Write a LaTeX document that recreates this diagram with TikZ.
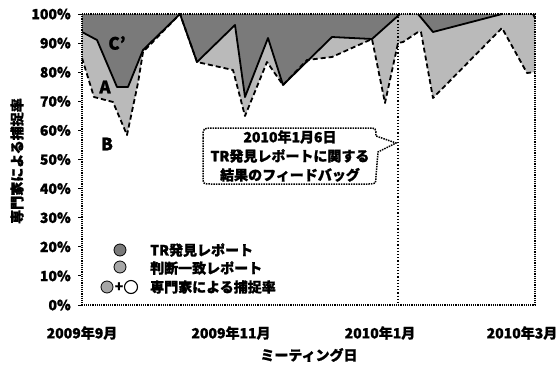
\documentclass[tikz,border=0pt]{standalone}
\usepackage{fontspec}
\setmainfont{Noto Sans CJK JP}[BoldFeatures={FakeBold=1.2}]
\begin{document}
\begin{tikzpicture}[x=1pt,y=-1pt,
  every node/.style={font=\fontsize{14}{16}\selectfont\bfseries, inner sep=0pt},
  darkfill/.style={fill=black!52},
  lightfill/.style={fill=black!27},
  solidline/.style={draw=black, line width=1.8pt, line join=round},
  dashline/.style={draw=black, line width=1.8pt, dash pattern=on 5pt off 3pt, line join=round},
  frameline/.style={draw=black, line width=2pt, dash pattern=on 1.2pt off 1pt},
  feedline/.style={draw=black, line width=1.6pt, dash pattern=on 1.2pt off 2pt},
  calloutline/.style={draw=black, line width=1.5pt, dash pattern=on 1.5pt off 1pt, fill=white},
  ticklab/.style={anchor=east},
  xlab/.style={anchor=center},
  region/.style={font=\fontsize{17}{18}\selectfont\bfseries},
  legdot/.style={draw=black, line width=0.8pt}
]
\useasboundingbox (0,0) rectangle (558,365);

% regions
\fill[lightfill] (82,14) -- (82,58) -- (94,97) -- (113,102) -- (127,135) -- (138,83) -- (143,52) -- (180,14)
  -- (197,62) -- (233,70) -- (245,116) -- (267,62) -- (283,85) -- (307,60) -- (332,57) -- (372,39)
  -- (385,103) -- (398,43) -- (403,42) -- (418,32) -- (421,32) -- (433,98) -- (502,28) -- (527,73) -- (535,72)
  -- (535,14) -- cycle;
\fill[darkfill] (82,14) -- (82,32) -- (97,40) -- (117,87) -- (128,87) -- (143,50) -- (180,14)
  -- (197,62) -- (235,25) -- (245,97) -- (268,38) -- (283,85) -- (332,37) -- (372,39) -- (400,14)
  -- (418,14) -- (433,32) -- (502,14) -- (533,14) -- (535,18) -- (535,14) -- cycle;

% curves
\draw[solidline] (82,32) -- (97,40) -- (117,87) -- (128,87) -- (143,50) -- (180,14)
  -- (197,62) -- (235,25) -- (245,97) -- (268,38) -- (283,85) -- (332,37) -- (372,39) -- (400,14)
  (418,14) -- (433,32) -- (502,14) (533,14) -- (535,18);
\draw[dashline] (82,58) -- (94,97) -- (113,102) -- (127,135) -- (138,83) -- (143,52) -- (180,14)
  -- (197,62) -- (233,70) -- (245,116) -- (267,62) -- (283,85) -- (307,60) -- (332,57) -- (372,39)
  -- (385,103) -- (398,43) -- (403,42) -- (418,32) -- (421,32) -- (433,98) -- (502,28) -- (527,73) -- (535,72);

% frame
\draw[frameline] (82,14) rectangle (535,305);
\foreach \k in {0,...,10} {
  \draw[line width=1pt] (78,{305-29.1*\k}) -- (81,{305-29.1*\k});
}
% feedback line
\coordinate (vtop) at (398,14);
\coordinate (vbot) at (398,305);
\draw[feedline] (vtop) -- (vbot);

% y tick labels
\node[ticklab] (t0) at (71,305) {0\%};
\node[ticklab] (t1) at (71,275.9) {10\%};
\node[ticklab] (t2) at (71,246.8) {20\%};
\node[ticklab] (t3) at (71,217.7) {30\%};
\node[ticklab] (t4) at (71,188.6) {40\%};
\node[ticklab] (t5) at (71,159.5) {50\%};
\node[ticklab] (t6) at (71,130.4) {60\%};
\node[ticklab] (t7) at (71,101.3) {70\%};
\node[ticklab] (t8) at (71,72.2) {80\%};
\node[ticklab] (t9) at (71,43.1) {90\%};
\node[ticklab] (t10) at (71,14) {100\%};

% x labels
\node[xlab] (x1) at (82,333) {2009年9月};
\node[xlab] (x2) at (231,333) {2009年11月};
\node[xlab] (x3) at (380,333) {2010年1月};
\node[xlab] (x4) at (522,333) {2010年3月};

% axis titles
\node (xt) at (309,355) {ミーティング日};
\node[rotate=90] (yt) at (17,161) {専門家による捕捉率};

% region labels
\node[region] (lc) at (117,43) {C'};
\node[region] (la) at (105,87) {A};
\node[region] (lb) at (107,144) {B};

% callout
\draw[calloutline] (203,138) .. controls (203,128) .. (213,128) -- (368,128) .. controls (376,128) .. (376,136)
  -- (396,143) -- (378,152) -- (376,176) .. controls (376,184) .. (368,184) -- (211,184)
  .. controls (203,184) .. (203,176) -- cycle;
\node[align=center, font=\fontsize{14}{19}\selectfont\bfseries] (co) at (290,156) {2010年1月6日\\TR発見レポートに関する\\結果のフィードバッグ};

% legend
\filldraw[legdot, fill=black!52] (120,250) circle (6);
\filldraw[legdot, fill=black!35] (120,267) circle (6);
\filldraw[legdot, fill=black!35] (107,287) circle (6);
\node (plus) at (119,287) {+};
\draw[legdot, line width=1.1pt, fill=white] (131,287) circle (6.5);
\node[anchor=west] (l1) at (150,250) {TR発見レポート};
\node[anchor=west] (l2) at (150,268) {判断一致レポート};
\node[anchor=west] (l3) at (150,287) {専門家による捕捉率};
\end{tikzpicture}
\end{document}
